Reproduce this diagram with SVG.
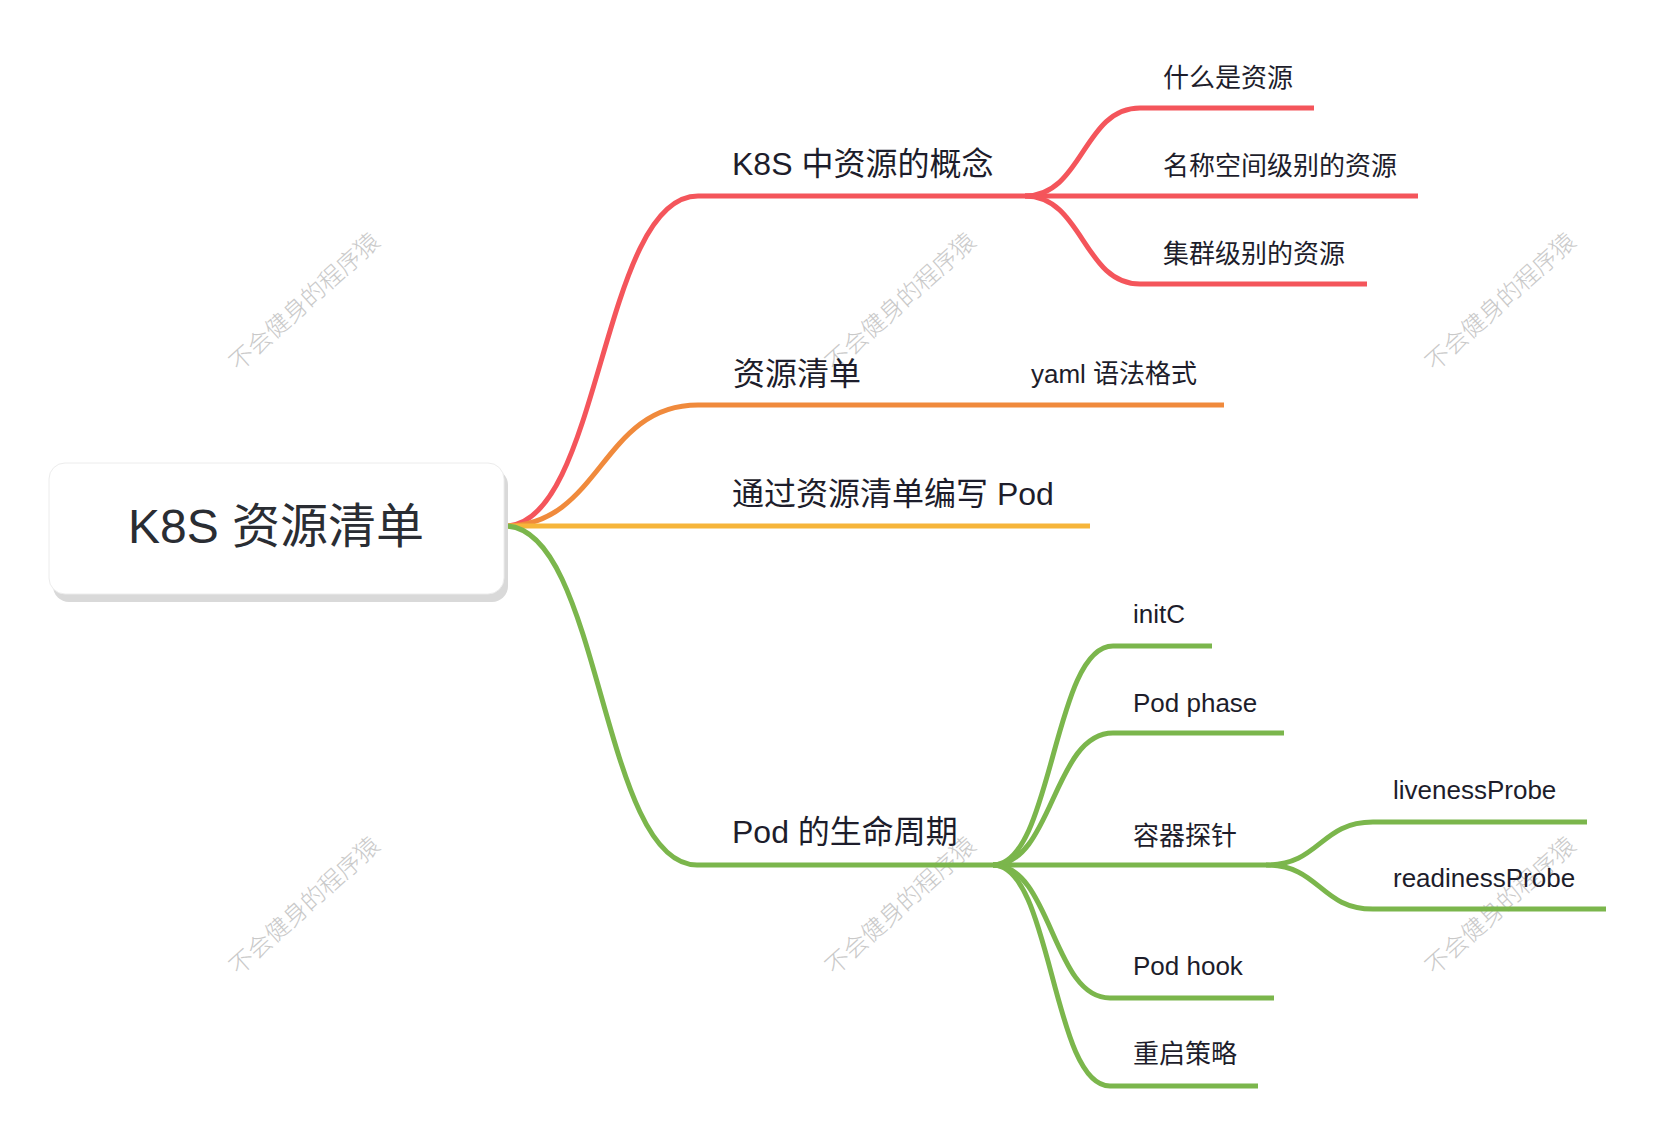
<svg xmlns="http://www.w3.org/2000/svg" width="1656" height="1136" viewBox="0 0 1656 1136">
<style>
.t{font-family:"Liberation Sans","Noto Sans CJK SC",sans-serif;fill:#1d1d2b}
.l1{font-size:32px}
.l2{font-size:26px}
.wm{font-family:"Noto Sans CJK SC",sans-serif;font-size:24px;font-weight:300;fill:#c9c9c9;text-anchor:middle}
.c{fill:none;stroke-width:5;stroke-linecap:butt}
.red{stroke:#F4555B}
.orange{stroke:#F08A3C}
.yellow{stroke:#F6B53A}
.green{stroke:#7BB64C}
</style>
<rect width="1656" height="1136" fill="#ffffff"/>
<g id="watermarks">
<text class="wm" transform="translate(310,308) rotate(-42)">不会健身的程序猿</text>
<text class="wm" transform="translate(906,308) rotate(-42)">不会健身的程序猿</text>
<text class="wm" transform="translate(1506,308) rotate(-42)">不会健身的程序猿</text>
<text class="wm" transform="translate(310,912) rotate(-42)">不会健身的程序猿</text>
<text class="wm" transform="translate(906,912) rotate(-42)">不会健身的程序猿</text>
<text class="wm" transform="translate(1506,912) rotate(-42)">不会健身的程序猿</text>
</g>
<g id="connectors">
<path class="c red" d="M505 526 C601 526 601 196 698 196 L1025 196 L1418 196"/>
<path class="c red" d="M1025 196 C1083 196 1083 108 1140 108 L1314 108"/>
<path class="c red" d="M1025 196 C1083 196 1083 284 1140 284 L1367 284"/>
<path class="c orange" d="M505 526 C601 526 601 405 698 405 L1224 405"/>
<path class="c yellow" d="M505 526 L1090 526"/>
<path class="c green" d="M505 526 C601 526 601 865 697 865 L1266 865"/>
<path class="c green" d="M993 865 C1053 865 1053 646 1113 646 L1212 646"/>
<path class="c green" d="M993 865 C1053 865 1053 733 1113 733 L1284 733"/>
<path class="c green" d="M993 865 C1052 865 1052 998 1110 998 L1274 998"/>
<path class="c green" d="M993 865 C1052 865 1052 1086 1110 1086 L1258 1086"/>
<path class="c green" d="M1266 865 C1320 865 1320 822 1373 822 L1587 822"/>
<path class="c green" d="M1266 865 C1320 865 1320 909 1373 909 L1606 909"/>
</g>
<g id="root">
<rect x="53" y="469" width="455" height="133" rx="16" fill="#d9d9d9"/>
<rect x="49" y="463" width="455" height="131" rx="16" fill="#ffffff" stroke="#ececec" stroke-width="1"/>
<text class="t" x="276" y="543" font-size="48" text-anchor="middle" style="fill:#2a2d33">K8S 资源清单</text>
</g>
<g id="n-concept"><text class="t l1" x="732" y="175">K8S 中资源的概念</text></g>
<g id="n-what"><text class="t l2" x="1163" y="87">什么是资源</text></g>
<g id="n-ns"><text class="t l2" x="1163" y="175">名称空间级别的资源</text></g>
<g id="n-cluster"><text class="t l2" x="1163" y="263">集群级别的资源</text></g>
<g id="n-list"><text class="t l1" x="733" y="385">资源清单</text></g>
<g id="n-yaml"><text class="t l2" x="1031" y="383">yaml 语法格式</text></g>
<g id="n-write"><text class="t l1" x="732" y="505">通过资源清单编写 Pod</text></g>
<g id="n-life"><text class="t l1" x="732" y="843">Pod 的生命周期</text></g>
<g id="n-initc"><text class="t l2" x="1133" y="623">initC</text></g>
<g id="n-phase"><text class="t l2" x="1133" y="712">Pod phase</text></g>
<g id="n-probe"><text class="t l2" x="1133" y="845">容器探针</text></g>
<g id="n-liveness"><text class="t l2" x="1393" y="799">livenessProbe</text></g>
<g id="n-readiness"><text class="t l2" x="1393" y="887">readinessProbe</text></g>
<g id="n-hook"><text class="t l2" x="1133" y="975">Pod hook</text></g>
<g id="n-restart"><text class="t l2" x="1133" y="1063">重启策略</text></g>
</svg>
